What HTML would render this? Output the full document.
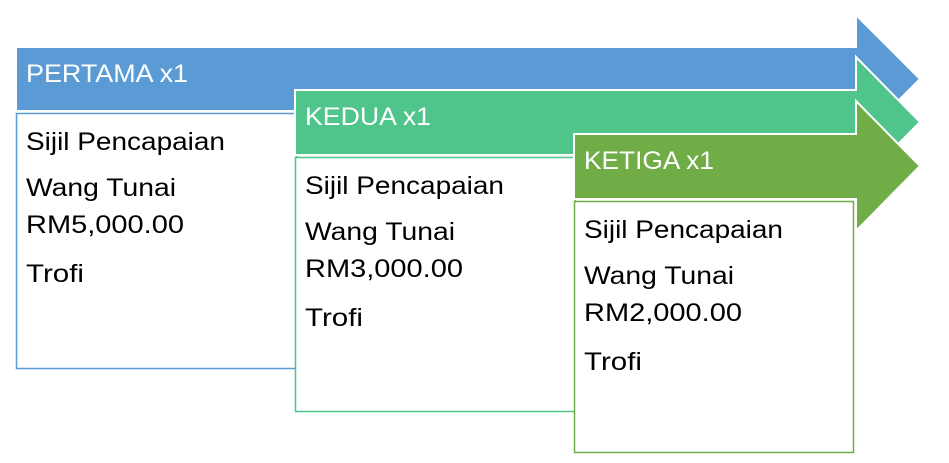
<!DOCTYPE html>
<html><head><meta charset="utf-8"><style>body{margin:0;background:#fff}svg{display:block}text{font-family:"Liberation Sans",sans-serif;font-size:25px}</style></head>
<body>
<svg width="949" height="463" viewBox="0 0 949 463" xmlns="http://www.w3.org/2000/svg">
<polygon points="16,47 856,47 856,15 920,79 856,143 856,111 16,111" fill="#5b9bd5" stroke="#fff" stroke-width="2"/>
<text x="26" y="82" fill="#fff" textLength="162" lengthAdjust="spacingAndGlyphs">PERTAMA x1</text>
<rect x="16.5" y="113.5" width="280" height="255" fill="#fff" stroke="#5b9bd5" stroke-width="1.5"/>
<text x="26" y="150" textLength="199" lengthAdjust="spacingAndGlyphs">Sijil Pencapaian</text>
<text x="26" y="196" textLength="150" lengthAdjust="spacingAndGlyphs">Wang Tunai</text>
<text x="26" y="233" textLength="158" lengthAdjust="spacingAndGlyphs">RM5,000.00</text>
<text x="26" y="282" textLength="58" lengthAdjust="spacingAndGlyphs">Trofi</text>

<polygon points="295,90 856,90 856,57 920,122 856,187 856,155 295,155" fill="#4fc48b" stroke="#fff" stroke-width="2"/>
<text x="305" y="125" fill="#fff" textLength="126" lengthAdjust="spacingAndGlyphs">KEDUA x1</text>
<rect x="295.5" y="157.5" width="280" height="254" fill="#fff" stroke="#4fc48b" stroke-width="1.5"/>
<text x="305" y="194" textLength="199" lengthAdjust="spacingAndGlyphs">Sijil Pencapaian</text>
<text x="305" y="240" textLength="150" lengthAdjust="spacingAndGlyphs">Wang Tunai</text>
<text x="305" y="277" textLength="158" lengthAdjust="spacingAndGlyphs">RM3,000.00</text>
<text x="305" y="326" textLength="58" lengthAdjust="spacingAndGlyphs">Trofi</text>

<polygon points="574,134 856,134 856,101 920,166 856,231 856,199 574,199" fill="#70ad47" stroke="#fff" stroke-width="2"/>
<text x="584" y="169" fill="#fff" textLength="130" lengthAdjust="spacingAndGlyphs">KETIGA x1</text>
<rect x="574.5" y="201.5" width="279" height="251" fill="#fff" stroke="#70ad47" stroke-width="1.5"/>
<text x="584" y="238" textLength="199" lengthAdjust="spacingAndGlyphs">Sijil Pencapaian</text>
<text x="584" y="284" textLength="150" lengthAdjust="spacingAndGlyphs">Wang Tunai</text>
<text x="584" y="321" textLength="158" lengthAdjust="spacingAndGlyphs">RM2,000.00</text>
<text x="584" y="370" textLength="58" lengthAdjust="spacingAndGlyphs">Trofi</text>
</svg>
</body></html>
